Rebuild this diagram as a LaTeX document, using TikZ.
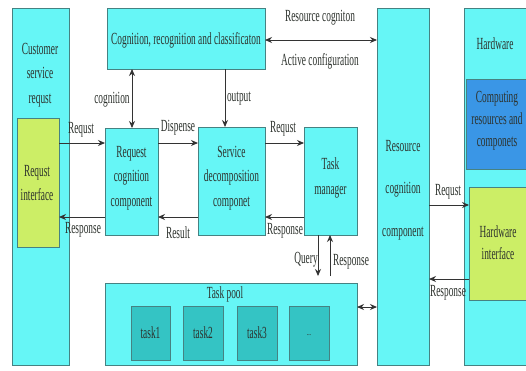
\documentclass[tikz,border=0pt]{standalone}
\usepackage{fontspec}
\setmainfont[FakeStretch=0.55]{Liberation Serif}
\usetikzlibrary{arrows.meta,calc}
\definecolor{cyanfill}{RGB}{102,246,246}
\definecolor{boxline}{RGB}{70,130,130}
\definecolor{greenfill}{RGB}{204,238,102}
\definecolor{bluefill}{RGB}{58,150,230}
\definecolor{taskfill}{RGB}{52,196,196}
\definecolor{txt}{RGB}{45,50,45}
\begin{document}
\begin{tikzpicture}[x=1pt,y=-1pt,
  box/.style={draw=boxline,line width=0.9pt,fill=cyanfill,inner sep=0pt,outer sep=0pt},
  gbox/.style={box,fill=greenfill},
  bbox/.style={box,fill=bluefill},
  tbox/.style={box,fill=taskfill},
  lbl/.style={font=\fontsize{17}{24.5}\selectfont,text=txt,inner sep=0pt,align=center},
  arr/.style={draw=black!80,line width=0.9pt,-{Stealth[length=7pt,width=6pt]}},
  darr/.style={draw=black!80,line width=0.9pt,{Stealth[length=7pt,width=6pt]}-{Stealth[length=7pt,width=6pt]}}]
\useasboundingbox (0,0) rectangle (526,370);
\fill[white] (0,0) rectangle (526,370);
% main boxes
\node[box,minimum width=57pt,minimum height=357pt] (Cust) at (40.5,186.5) {};
\node[gbox,minimum width=42pt,minimum height=129pt] (RI) at (38,182.5) {};
\node[box,minimum width=158pt,minimum height=61pt] (Cog) at (186,38.5) {};
\node[box,minimum width=53pt,minimum height=107pt] (RC) at (131.5,181.5) {};
\node[box,minimum width=67pt,minimum height=108pt] (SD) at (231.5,181) {};
\node[box,minimum width=53pt,minimum height=108pt] (TM) at (330.5,181) {};
\node[box,minimum width=252pt,minimum height=82pt] (TP) at (231,324) {};
\node[tbox,minimum width=39pt,minimum height=54pt] (t1) at (150.5,333) {};
\node[tbox,minimum width=40pt,minimum height=54pt] (t2) at (203,333) {};
\node[tbox,minimum width=40pt,minimum height=54pt] (t3) at (257,333) {};
\node[tbox,minimum width=40pt,minimum height=54pt] (t4) at (309,333) {};
\node[box,minimum width=52pt,minimum height=357pt] (Res) at (403,186.5) {};
\node[box,minimum width=68pt,minimum height=357pt] (HW) at (498,186.5) {};
\node[bbox,minimum width=66pt,minimum height=90pt] (CR) at (499,124) {};
\node[gbox,minimum width=63pt,minimum height=113pt] (HWI) at (500.5,243.5) {};
% texts in boxes
\node[lbl] (tCust) at (40,75) {Customer\\service\\requst};
\node[lbl] (tRI) at (37,183) {Requst\\interface};
\node[lbl] (tCog) at (186,40) {Cognition, recognition and classificaton};
\node[lbl] (tRC) at (131.5,178) {Request\\cognition\\component};
\node[lbl] (tSD) at (231.5,178) {Service\\decomposition\\componet};
\node[lbl] (tTM) at (330.5,178) {Task\\manager};
\node[lbl] (tTP) at (225,294) {Task pool};
\node[lbl] (tt1) at (150.5,333) {task1};
\node[lbl] (tt2) at (203,333) {task2};
\node[lbl] (tt3) at (257,333) {task3};
\node[lbl,font=\fontsize{10}{10}\selectfont] (tt4) at (309,335) {...};
\node[lbl,font=\fontsize{17}{42.5}\selectfont] (tRes) at (403,190) {Resource\\cognition\\component};
\node[lbl] (tHW) at (495,44) {Hardware};
\node[lbl,font=\fontsize{17}{22}\selectfont] (tCR) at (497,121) {Computing\\resources and\\componets};
\node[lbl,font=\fontsize{17}{22}\selectfont] (tHWI) at (498,243) {Hardware\\interface};
% helper coordinates
\coordinate (ya) at (0,143);
\coordinate (yb) at (0,217);
\coordinate (yc) at (0,40);
\coordinate (yd) at (0,307);
\coordinate (ye) at (0,205);
\coordinate (yf) at (0,279);
\coordinate (xc) at (132,0);
\coordinate (xo) at (225,0);
\coordinate (q) at (318,276);
\coordinate (r) at (330,276);
% connectors
\draw[arr] (RI.east |- ya) -- (RC.west |- ya);
\draw[arr] (RC.east |- ya) -- (SD.west |- ya);
\draw[arr] (SD.east |- ya) -- (TM.west |- ya);
\draw[arr] (TM.west |- yb) -- (SD.east |- yb);
\draw[arr] (SD.west |- yb) -- (RC.east |- yb);
\draw[arr] (RC.west |- yb) -- (RI.east |- yb);
\draw[darr] (Cog.south -| xc) -- (RC.north -| xc);
\draw[arr] (Cog.south -| xo) -- (SD.north -| xo);
\draw[arr] (TM.south -| q) -- (q);
\draw[arr] (r) -- (TM.south -| r);
\draw[darr] (Cog.east |- yc) -- (Res.west |- yc);
\draw[darr] (TP.east |- yd) -- (Res.west |- yd);
\draw[arr] (Res.east |- ye) -- (HWI.west |- ye);
\draw[arr] (HWI.west |- yf) -- (Res.east |- yf);
% connector labels
\node[lbl] (l1) at (81,130) {Requst};
\node[lbl] (l2) at (178,128) {Dispense};
\node[lbl] (l3) at (283,129) {Requst};
\node[lbl] (l4) at (285,231) {Response};
\node[lbl] (l5) at (178,233) {Result};
\node[lbl] (l6) at (83,230) {Response};
\node[lbl] (l7) at (112,100) {cognition};
\node[lbl] (l8) at (239,99) {output};
\node[lbl] (l9) at (306,260) {Query};
\node[lbl] (l10) at (351,262) {Response};
\node[lbl] (l11) at (320,18) {Resource cogniton};
\node[lbl] (l12) at (320,61) {Active configuration};
\node[lbl] (l13) at (448,192) {Requst};
\node[lbl] (l14) at (448,293) {Response};
\end{tikzpicture}
\end{document}
